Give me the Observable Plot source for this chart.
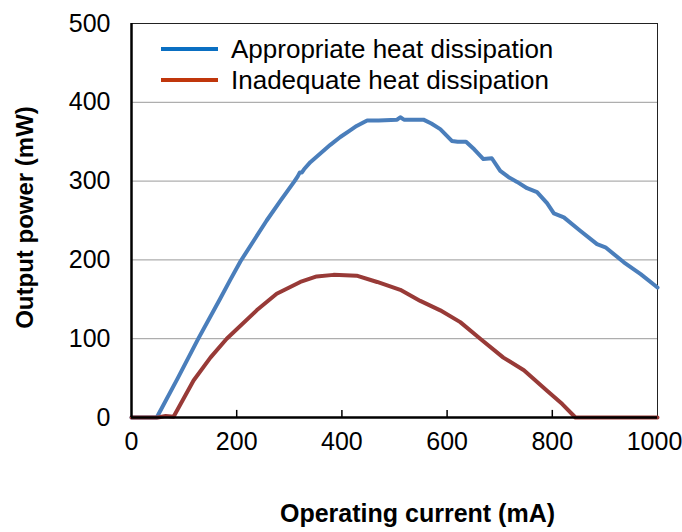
<!DOCTYPE html>
<html>
<head>
<meta charset="utf-8">
<script src="https://cdn.jsdelivr.net/npm/d3@7"></script>
<script src="https://cdn.jsdelivr.net/npm/@observablehq/plot@0.6"></script>
<style>
  html, body { margin: 0; padding: 0; background: #fff; }
  #wrap { position: relative; width: 682px; height: 532px; font-family: "Liberation Sans", Arial, sans-serif; }
  .leg { position: absolute; left: 161px; display: flex; align-items: center; font-size: 26px; color: #000; white-space: nowrap; height: 30px; }
  .leg .sw { width: 57px; height: 4px; margin-right: 13px; }
</style>
</head>
<body>
<div id="wrap"></div>
<script>
// Series: Appropriate heat dissipation
const blueCurrent = [0, 45, 48, 88, 127, 168, 188, 207, 232, 257, 283, 310, 316, 320, 324, 328, 340, 359, 378, 397, 415, 428, 448, 470, 505, 511, 518, 555, 570, 587, 609, 620, 636, 652, 669, 685, 701, 717, 733, 752, 771, 790, 803, 822, 853, 885, 901, 936, 968, 1000];
const bluePower   = [0, 0, 0, 50, 100, 150, 175, 198, 224, 250, 275, 300, 306, 311, 311, 315, 324, 335, 346, 356, 364, 370, 377, 377, 378, 381, 378, 378, 373, 366, 351, 350, 350, 340, 328, 329, 313, 305, 299, 291, 286, 272, 259, 254, 237, 220, 216, 197, 182, 165];
// Series: Inadequate heat dissipation
const redCurrent = [0, 50, 65, 80, 118, 150, 181, 238, 276, 321, 352, 384, 428, 467, 511, 549, 587, 625, 663, 707, 746, 790, 819, 844, 1000];
const redPower   = [0, 0, 2, 1, 47, 76, 100, 136, 157, 172, 179, 181, 180, 172, 162, 148, 136, 121, 100, 76, 60, 34, 17, 0, 0];

const seriesNames = ["Appropriate heat dissipation", "Inadequate heat dissipation"];
const xTicks = [0, 200, 400, 600, 800, 1000];
const yTicks = [0, 100, 200, 300, 400, 500];
const gridValues = [100, 200, 300, 400];
const xTitle = "Operating current (mA)";
const yTitle = "Output power (mW)";

const lineColors = ["#4a7ebb", "#983a37"];
const legendColors = ["#0a6fc2", "#c0360c"];

const blue = blueCurrent.map((c, i) => ({current: c, power: bluePower[i]}));
const red = redCurrent.map((c, i) => ({current: c, power: redPower[i]}));

const chart = Plot.plot({
  width: 682,
  height: 532,
  marginLeft: 131,
  marginRight: 25,
  marginTop: 23,
  marginBottom: 115,
  style: {fontFamily: "Liberation Sans, Arial, sans-serif", background: "#fff", color: "#000", overflow: "visible"},
  x: {domain: [0, 1000], ticks: xTicks},
  y: {domain: [0, 500], ticks: yTicks},
  marks: [
    Plot.ruleY(gridValues, {stroke: "#9a9a9a", strokeWidth: 1}),
    Plot.frame({stroke: "#222", strokeWidth: 1}),
    Plot.ruleX(xTicks.slice(1, -1), {y1: 0, y2: 9, stroke: "#000", strokeWidth: 1.5}),
    Plot.axisX(xTicks.slice(0, -1), {tickSize: 0, tickPadding: 15, fontSize: 25, tickFormat: d => String(d), label: null}),
    Plot.axisX(xTicks.slice(-1), {tickSize: 0, tickPadding: 15, fontSize: 25, dx: -3, tickFormat: d => String(d), label: null}),
    Plot.axisY({ticks: yTicks, tickSize: 0, tickPadding: 21, fontSize: 25, tickFormat: d => String(d), label: null}),
    Plot.line(blue, {x: "current", y: "power", stroke: lineColors[0], strokeWidth: 4, strokeLinejoin: "round"}),
    Plot.line(red, {x: "current", y: "power", stroke: lineColors[1], strokeWidth: 4, strokeLinejoin: "round"}),
    Plot.ruleY([0], {stroke: "#000", strokeWidth: 2.5}),
    Plot.ruleX([0], {stroke: "#000", strokeWidth: 2.5}),
    Plot.text([xTitle], {frameAnchor: "bottom", dx: 23, dy: 104, fontSize: 25, fontWeight: "bold", letterSpacing: "-0.3px"}),
    Plot.text([yTitle], {frameAnchor: "left", textAnchor: "middle", dx: -106, dy: -3, rotate: -90, fontSize: 24, fontWeight: "bold", letterSpacing: "-0.3px"})
  ]
});

const wrap = document.getElementById("wrap");
wrap.appendChild(chart);
const legendCenters = [49, 80];
seriesNames.forEach((name, i) => {
  const d = document.createElement("div");
  d.className = "leg";
  d.style.top = (legendCenters[i] - 15) + "px";
  const sw = document.createElement("div");
  sw.className = "sw";
  sw.style.background = legendColors[i];
  const t = document.createElement("span");
  t.textContent = name;
  d.appendChild(sw);
  d.appendChild(t);
  wrap.appendChild(d);
});
</script>
</body>
</html>
